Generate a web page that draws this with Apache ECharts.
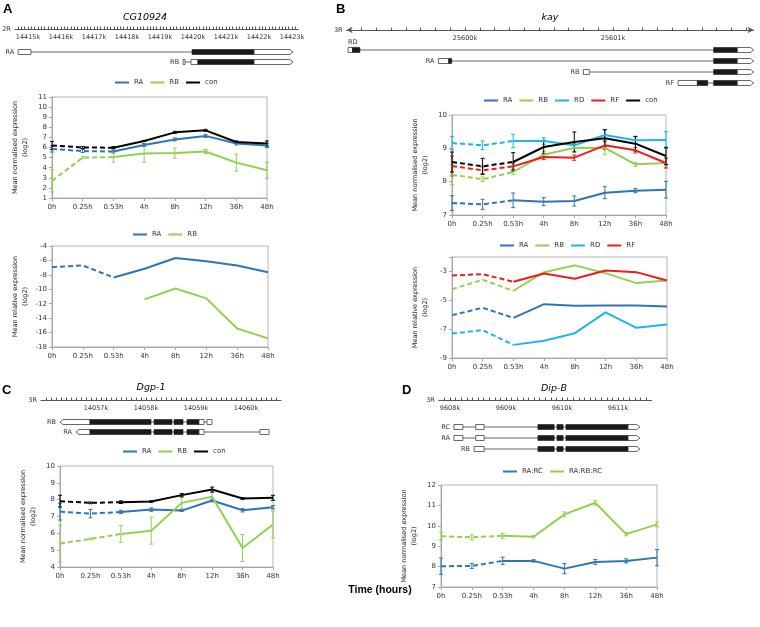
<!DOCTYPE html>
<html><head><meta charset="utf-8">
<script src="https://cdn.jsdelivr.net/npm/echarts@6/dist/echarts.min.js"></script>
<style>html,body{margin:0;padding:0;background:#fff}#c{width:760px;height:627px}</style>
</head><body><div id="c"></div><script>
const times = ['0h','0.25h','0.53h','4h','8h','12h','36h','48h'];

// ---- Panel A (CG10924) ----
const a1RA = [5.85,5.65,5.6,6.25,6.8,7.15,6.4,6.2];
const a1RAerr = [0.3,0.15,0.15,0.15,0.15,0.15,0.15,0.2];
const a1RB = [2.7,5.0,5.05,5.4,5.45,5.6,4.5,3.75];
const a1RBerr = [1.1,0.1,0.5,0.85,0.5,0.2,0.85,0.8];
const a1con = [6.2,6.0,5.98,6.65,7.5,7.7,6.55,6.4];
const a1conErr = [0.4,0.1,0.1,0.05,0.1,0.1,0.1,0.25];
const a2RA = [-6.93,-6.7,-8.37,-7.16,-5.67,-6.1,-6.7,-7.63];
const a2RB = [null,null,null,-11.4,-9.9,-11.26,-15.44,-16.8];

// ---- Panel B (kay) ----
const b1RA = [7.36,7.32,7.44,7.4,7.42,7.67,7.73,7.76];
const b1RAerr = [0.22,0.15,0.22,0.12,0.15,0.18,0.06,0.25];
const b1RB = [8.21,8.07,8.29,8.81,9.02,9.01,8.52,8.56];
const b1RBerr = [0.3,0.07,0.08,0.1,0.12,0.2,0.06,0.15];
const b1RD = [9.16,9.09,9.22,9.22,9.09,9.4,9.24,9.25];
const b1RDerr = [0.2,0.13,0.2,0.1,0.1,0.15,0.1,0.25];
const b1RF = [8.47,8.34,8.46,8.74,8.72,9.09,8.94,8.56];
const b1RFerr = [0.3,0.1,0.1,0.08,0.08,0.12,0.08,0.15];
const b1con = [8.59,8.46,8.59,9.04,9.19,9.3,9.14,8.77];
const b1conErr = [0.3,0.24,0.28,0.2,0.3,0.26,0.22,0.26];
const b2RA = [-6.03,-5.52,-6.22,-5.27,-5.38,-5.36,-5.36,-5.43];
const b2RB = [-4.23,-3.58,-4.34,-3.05,-2.58,-3.12,-3.81,-3.63];
const b2RD = [-7.31,-7.07,-8.09,-7.81,-7.28,-5.84,-6.91,-6.68];
const b2RF = [-3.28,-3.19,-3.72,-3.14,-3.51,-2.93,-3.05,-3.63];

// ---- Panel C (Dgp-1) ----
const cRA = [7.29,7.17,7.27,7.41,7.35,7.95,7.37,7.55];
const cRAerr = [0.5,0.25,0.1,0.1,0.05,0.08,0.1,0.1];
const cRB = [5.39,5.67,5.96,6.16,7.81,8.17,5.13,6.52];
const cRBerr = [1.1,0.05,0.5,0.8,0.35,0.25,0.8,0.8];
const cCon = [7.91,7.81,7.85,7.89,8.27,8.6,8.07,8.11];
const cConErr = [0.35,0.05,0.08,0.05,0.1,0.15,0.05,0.15];

// ---- Panel D (Dip-B) ----
const dRARC = [8.02,8.03,8.28,8.28,7.9,8.23,8.28,8.44];
const dRARCerr = [0.4,0.12,0.18,0.06,0.25,0.12,0.1,0.4];
const dRARBRC = [9.49,9.44,9.51,9.46,10.56,11.13,9.59,10.07];
const dRARBRCerr = [0.2,0.12,0.12,0.05,0.12,0.12,0.08,0.12];

// ---- Ruler tick labels (kb) ----
const rulerLabelsA = [14415,14416,14417,14418,14419,14420,14421,14422,14423];
const rulerLabelsB = [25600,25601];
const rulerLabelsC = [14057,14058,14059,14060];
const rulerLabelsD = [9608,9609,9610,9611];

// ---- Gene models (kb) ----
const geneA = [
  {name:'RA', strand:1, exons:[[14414.70,14415.09,'utr'],[14419.97,14421.85,'cds'],[14421.85,14423.03,'utr']]},
  {name:'RB', strand:1, exons:[[14419.70,14419.76,'utr'],[14419.94,14420.15,'utr'],[14420.15,14421.85,'cds'],[14421.85,14423.03,'utr']]}
];
const geneB = [
  {name:'RD', strand:1, exons:[[25599.21,25599.24,'utr'],[25599.24,25599.29,'cds'],[25601.68,25601.84,'cds'],[25601.84,25601.95,'utr']]},
  {name:'RA', strand:1, exons:[[25599.82,25599.89,'utr'],[25599.89,25599.91,'cds'],[25601.68,25601.84,'cds'],[25601.84,25601.95,'utr']]},
  {name:'RB', strand:1, exons:[[25600.80,25600.84,'utr'],[25601.68,25601.84,'cds'],[25601.84,25601.95,'utr']]},
  {name:'RF', strand:1, exons:[[25601.44,25601.57,'utr'],[25601.57,25601.64,'cds'],[25601.68,25601.84,'cds'],[25601.84,25601.95,'utr']]}
];
const geneC = [
  {name:'RB', strand:-1, exons:[[14056.28,14056.88,'utr'],[14056.88,14058.10,'cds'],[14058.16,14058.52,'cds'],[14058.56,14058.74,'cds'],[14058.82,14059.06,'cds'],[14059.06,14059.16,'utr'],[14059.22,14059.32,'utr']]},
  {name:'RA', strand:-1, exons:[[14056.60,14056.88,'utr'],[14056.88,14058.10,'cds'],[14058.16,14058.52,'cds'],[14058.56,14058.74,'cds'],[14058.82,14059.06,'cds'],[14059.06,14059.16,'utr'],[14060.28,14060.46,'utr']]}
];
const geneD = [
  {name:'RC', strand:1, exons:[[9608.07,9608.23,'utr'],[9608.46,9608.61,'utr'],[9609.57,9609.86,'cds'],[9609.91,9610.02,'cds'],[9610.07,9611.18,'cds'],[9611.18,9611.39,'utr']]},
  {name:'RA', strand:1, exons:[[9608.07,9608.23,'utr'],[9608.46,9608.61,'utr'],[9609.57,9609.86,'cds'],[9609.91,9610.02,'cds'],[9610.07,9611.18,'cds'],[9611.18,9611.39,'utr']]},
  {name:'RB', strand:1, exons:[[9608.43,9608.61,'utr'],[9609.57,9609.86,'cds'],[9609.91,9610.02,'cds'],[9610.07,9611.18,'cds'],[9611.18,9611.39,'utr']]}
];

const COL = {RA:'#2e75b6', RB:'#92d050', RD:'#1fb4ee', RF:'#ee1c1c', con:'#000000', 'RA:RC':'#2e75b6', 'RA:RB:RC':'#92d050'};
const FONT = 'DejaVu Sans';

const grids = [], xAxes = [], yAxes = [], series = [], legends = [];

function errRender(color){
  return function(params, api){
    const i = api.value(0), v = api.value(1), e = api.value(2);
    const t = api.coord([i, v+e]), b = api.coord([i, v-e]);
    const x = t[0], w = 2;
    const st = {stroke:color, lineWidth:1};
    return {type:'group', children:[
      {type:'line', shape:{x1:x,y1:t[1],x2:x,y2:b[1]}, style:st},
      {type:'line', shape:{x1:x-w,y1:t[1],x2:x+w,y2:t[1]}, style:st},
      {type:'line', shape:{x1:x-w,y1:b[1],x2:x+w,y2:b[1]}, style:st}
    ]};
  };
}

function addLine(gi, name, vals, errs){
  const color = COL[name];
  const solid = vals.map((v,i)=> i>=2 ? v : null);
  const dashed = vals.map((v,i)=> i<=2 ? v : null);
  series.push({type:'line', name, xAxisIndex:gi, yAxisIndex:gi, data:solid, showSymbol:false, symbol:'none',
    lineStyle:{color, width:2}, itemStyle:{color}, silent:true, z:3});
  series.push({type:'line', name, xAxisIndex:gi, yAxisIndex:gi, data:dashed, showSymbol:false, symbol:'none',
    lineStyle:{color, width:2, type:[5,3]}, itemStyle:{color}, silent:true, z:3});
  if (errs) series.push({type:'custom', name:name+'_err'+gi, xAxisIndex:gi, yAxisIndex:gi,
    data: vals.map((v,i)=>[i, v, errs[i]]), encode:{x:0,y:1}, renderItem: errRender(color), silent:true, z:2});
}

function addChart(box, ymin, ymax, yint, yname, legendNames, legendPos, hideMax){
  const gi = grids.length;
  grids.push({left:box[0], top:box[1], width:box[2], height:box[3], show:true, borderColor:'#b4b4b4', borderWidth:1, outerBoundsMode:'none'});
  xAxes.push({gridIndex:gi, type:'category', data:times, boundaryGap:false,
    axisLine:{show:true, lineStyle:{color:'#a6a6a6'}}, axisTick:{show:true, length:3, lineStyle:{color:'#a6a6a6'}},
    axisLabel:{fontSize:7, color:'#333', fontFamily:FONT, margin:6}, splitLine:{show:false}});
  yAxes.push({gridIndex:gi, type:'value', min:ymin, max:ymax, interval:yint,
    axisLine:{show:true, lineStyle:{color:'#a6a6a6'}}, axisTick:{show:true, length:3, lineStyle:{color:'#a6a6a6'}},
    axisLabel:{fontSize:7, color:'#333', fontFamily:FONT, margin:5, formatter: v => (hideMax && v===ymax) ? '' : String(v)},
    splitLine:{show:false}, name:yname, nameLocation:'middle', nameRotate:90, nameGap:22,
    nameTextStyle:{fontSize:6.5, color:'#222', fontFamily:FONT, lineHeight:10}});
  legends.push({left:legendPos[0], top:legendPos[1], orient:'horizontal', icon:'rect', itemWidth:14, itemHeight:2, itemGap:7,
    padding:0, selectedMode:false, textStyle:{fontSize:7, color:'#333', fontFamily:FONT},
    data: legendNames.map(n=>({name:n, itemStyle:{color:COL[n]}}))});
  return gi;
}

function transcriptRenderer(list){
  return function(params, api){
    const t = list[params.dataIndex];
    const cs = params.coordSys;
    const idx = params.dataIndex;
    const y = api.coord([t.exons[0][0], idx])[1];
    const h = 5;
    const xs = t.exons.map(e => [api.coord([e[0], idx])[0], api.coord([e[1], idx])[0], e[2]]);
    const x0 = Math.min(...xs.map(e=>e[0])), x1 = Math.max(...xs.map(e=>e[1]));
    const ch = [{type:'line', shape:{x1:x0,y1:y,x2:x1,y2:y}, style:{stroke:'#666', lineWidth:1}}];
    xs.forEach((e,i)=>{
      const cds = e[2]==='cds';
      const tip = (t.strand>0 && i===xs.length-1) || (t.strand<0 && i===0);
      const style = cds ? {fill:'#1a1a1a', stroke:'#1a1a1a', lineWidth:0.6} : {fill:'#ffffff', stroke:'#444', lineWidth:0.8};
      if (tip && !cds){
        const a = Math.min(3, (e[1]-e[0])/2);
        const pts = t.strand>0
          ? [[e[0],y-h/2],[e[1]-a,y-h/2],[e[1],y],[e[1]-a,y+h/2],[e[0],y+h/2]]
          : [[e[1],y-h/2],[e[0]+a,y-h/2],[e[0],y],[e[0]+a,y+h/2],[e[1],y+h/2]];
        ch.push({type:'polygon', shape:{points:pts}, style});
      } else {
        ch.push({type:'rect', shape:{x:e[0], y:y-h/2, width:Math.max(1.2, e[1]-e[0]), height:h}, style});
      }
    });
    const above = (x0 - cs.x) < 2.5;
    ch.push({type:'text', style:{text:t.name, x: above ? x0 : x0-4, y: above ? y-8 : y,
      align: above ? 'left' : 'right', verticalAlign:'middle', fontSize:6.5, fill:'#333', fontFamily:FONT}});
    return {type:'group', children:ch};
  };
}

function addGene(list, kbMin, kbMax, left, width, rulerY, rowTop, rowH, chrom, arrows, labels){
  const gi = grids.length;
  grids.push({left, top:rowTop, width, height:rowH*list.length, show:false, outerBoundsMode:'none'});
  xAxes.push({gridIndex:gi, type:'value', position:'top', offset:rowTop-rulerY, min:kbMin, max:kbMax, interval:0.1,
    axisLine:{show:true, onZero:false, lineStyle:{color:'#555', width:1}, symbol: arrows ? ['arrow','arrow'] : ['none','none'], symbolSize:[5,6]},
    axisTick:{show:true, length:2.5, lineStyle:{color:'#555'}},
    axisLabel:{inside:true, margin:5, fontSize:6.5, color:'#333', fontFamily:FONT, showMinLabel:false, showMaxLabel:false,
      formatter: v => labels.some(L => Math.abs(v-L)<0.01) ? Math.round(v)+'k' : ''},
    splitLine:{show:false}, name:chrom, nameLocation:'start', nameGap:4,
    nameTextStyle:{fontSize:6.5, color:'#333', fontFamily:FONT}});
  yAxes.push({gridIndex:gi, type:'category', data:list.map(t=>t.name), inverse:true, show:false});
  series.push({type:'custom', name:'gene'+gi, xAxisIndex:gi, yAxisIndex:gi, data:list.map((t,i)=>[t.exons[0][0], i]),
    encode:{x:0,y:1}, renderItem:transcriptRenderer(list), silent:true, clip:false});
}

const NORM = 'Mean normalised expression\n(log2)';
const REL = 'Mean relative expression\n(log2)';

// Panel A
addGene(geneA, 14414.6, 14423.2, 14.8, 283.8, 29, 47, 10, '2R', false, rulerLabelsA);
let g = addChart([52,97,215,101], 1, 11, 1, NORM, ['RA','RB','con'], [115,79]);
addLine(g,'RA',a1RA,a1RAerr); addLine(g,'RB',a1RB,a1RBerr); addLine(g,'con',a1con,a1conErr);
g = addChart([52,246,216,101], -18, -4, 2, REL, ['RA','RB'], [133,231]);
addLine(g,'RA',a2RA); addLine(g,'RB',a2RB);

// Panel B
addGene(geneB, 25599.2, 25601.95, 346.6, 407, 30, 44.5, 11, '3R', true, rulerLabelsB);
g = addChart([452,115,214,100], 7, 10, 1, NORM, ['RA','RB','RD','RF','con'], [484,97]);
addLine(g,'RA',b1RA,b1RAerr); addLine(g,'RB',b1RB,b1RBerr); addLine(g,'RD',b1RD,b1RDerr); addLine(g,'RF',b1RF,b1RFerr); addLine(g,'con',b1con,b1conErr);
g = addChart([452,257,215,101], -9, -2, 2, REL, ['RA','RB','RD','RF'], [500,242], true);
addLine(g,'RA',b2RA); addLine(g,'RB',b2RB); addLine(g,'RD',b2RD); addLine(g,'RF',b2RF);

// Panel C
addGene(geneC, 14055.9, 14060.7, 41, 240, 400, 417, 10, '3R', false, rulerLabelsC);
g = addChart([60,466,213,101], 4, 10, 1, NORM, ['RA','RB','con'], [123,448]);
addLine(g,'RA',cRA,cRAerr); addLine(g,'RB',cRB,cRBerr); addLine(g,'con',cCon,cConErr);

// Panel D
addGene(geneD, 9607.8, 9611.6, 438.8, 212.8, 400, 421.5, 11, '3R', false, rulerLabelsD);
g = addChart([441,485,216,102], 7, 12, 1, NORM, ['RA:RC','RA:RB:RC'], [503,468]);
addLine(g,'RA:RC',dRARC,dRARCerr); addLine(g,'RA:RB:RC',dRARBRC,dRARBRCerr);

function txt(text, x, y, font, align){
  return {type:'text', x, y, silent:true, style:{text, font, align: align||'left', verticalAlign:'middle', fill:'#000'}};
}

const chart = echarts.init(document.getElementById('c'), null, {renderer:'canvas'});
chart.setOption({
  animation:false,
  backgroundColor:'#ffffff',
  grid:grids, xAxis:xAxes, yAxis:yAxes, legend:legends, series,
  graphic:[
    txt('A', 3, 9, 'bold 13px "Liberation Sans"'),
    txt('B', 336, 9, 'bold 13px "Liberation Sans"'),
    txt('C', 2, 390, 'bold 13px "Liberation Sans"'),
    txt('D', 402, 390, 'bold 13px "Liberation Sans"'),
    txt('CG10924', 145, 18, 'italic 9.5px "DejaVu Sans"', 'center'),
    txt('kay', 550, 18, 'italic 9.5px "DejaVu Sans"', 'center'),
    txt('Dgp-1', 151, 388, 'italic 9.5px "DejaVu Sans"', 'center'),
    txt('Dip-B', 554, 389, 'italic 9.5px "DejaVu Sans"', 'center'),
    txt('Time (hours)', 380, 590, 'bold 10.5px "Liberation Sans"', 'center')
  ]
});
</script></body></html>
